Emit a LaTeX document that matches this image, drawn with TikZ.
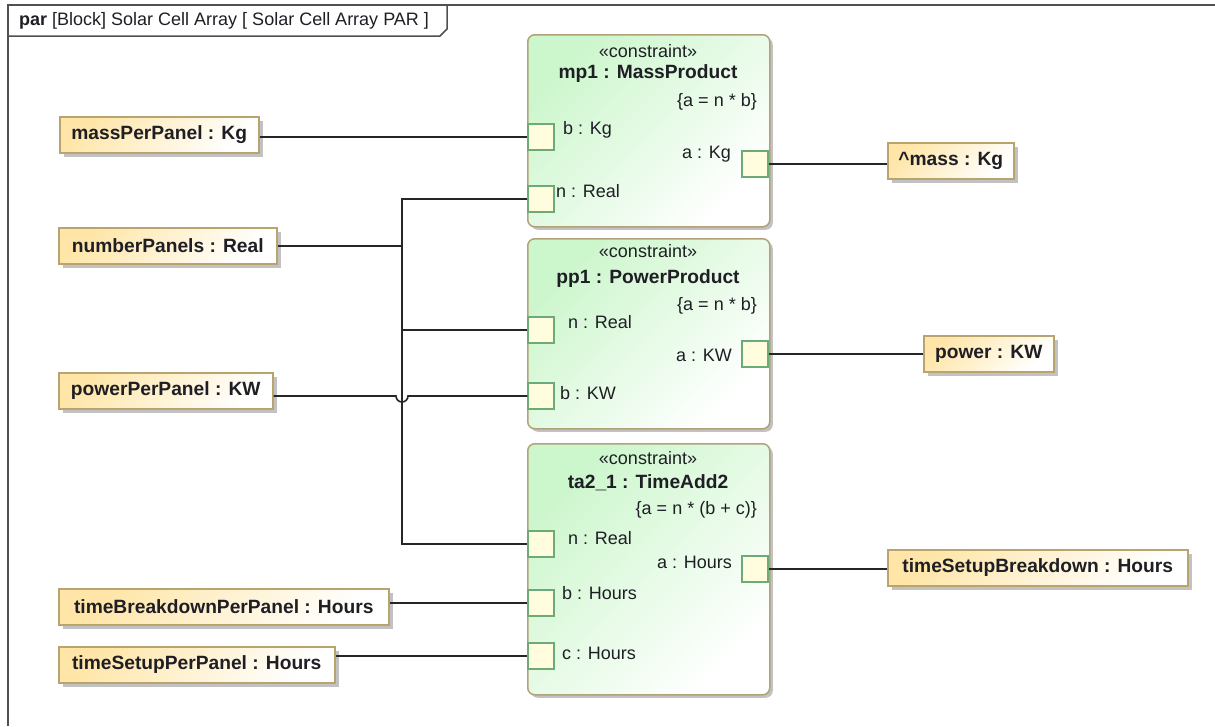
\documentclass[tikz,border=0pt]{standalone}
\usepackage{fontspec}
\setmainfont{Liberation Sans}
\usetikzlibrary{shadows,calc}

\definecolor{blockfill}{HTML}{CCF6CC}
\definecolor{blockline}{HTML}{B2A27A}
\definecolor{propfill}{HTML}{FFE6A8}
\definecolor{propline}{HTML}{B8A46E}
\definecolor{portfill}{HTML}{FFFDDE}
\definecolor{portline}{HTML}{6CAA78}
\definecolor{frameline}{HTML}{505050}
\definecolor{ink}{HTML}{1E1E24}

\newcommand\diagfont{\fontsize{18}{21}\selectfont}
\newcommand\boldfont{\fontsize{19.2}{22}\selectfont\bfseries}

\tikzset{
  constraintbox/.style={draw=blockline,line width=1.5pt,rounded corners=7pt,
    top color=blockfill,bottom color=white,shading angle=45,
    minimum width=242pt,inner sep=0pt,anchor=north west,
    drop shadow={shadow xshift=3pt,shadow yshift=-3pt,fill=black!40,opacity=.6}},
  propbox/.style={draw=propline,line width=1.5pt,
    top color=propfill,bottom color=white,shading angle=45,
    minimum height=36pt,inner sep=0pt,anchor=west,text=ink,font=\boldfont,
    drop shadow={shadow xshift=4pt,shadow yshift=-4pt,fill=black!40,opacity=.6}},
  port/.style={draw=portline,line width=1.3pt,fill=portfill,minimum size=26pt,inner sep=0pt},
  lbl/.style={inner sep=0pt,text=ink},
  wire/.style={line width=1.6pt,draw=black!85}
}

\begin{document}
\begin{tikzpicture}[x=1pt,y=-1pt,font=\diagfont]
\useasboundingbox (0,0) rectangle (1215,726);

\draw[frameline,line width=1.5pt] (8,726) -- (8,5) -- (1215,5);
\draw[frameline,line width=1.5pt] (8,36) -- (440,36) -- (447,29) -- (447,5);
\node[lbl,anchor=west] (frametitle) at (19,21) {\textbf{par} [Block] Solar Cell Array [ Solar Cell Array PAR ]};

\node[constraintbox,minimum height=192pt] (mp1) at (527,34) {};
\node[lbl] (mp1st) at (648,51) {«constraint»};
\node[lbl,font=\boldfont] (mp1name) at (648,74) {mp1 : MassProduct};
\node[lbl,anchor=east] (mp1expr) at (757,102) {\{a = n * b\}};
\node[port] (mp1b) at (541,137) {};
\node[port] (mp1n) at (541,199) {};
\node[port] (mp1a) at (755,164) {};
\node[lbl,anchor=west] at (563,130) {b : Kg};
\node[lbl,anchor=west] at (556,191) {n : Real};
\node[lbl,anchor=east] at (731,154) {a : Kg};

\node[constraintbox,minimum height=190pt] (pp1) at (527,238) {};
\node[lbl] (pp1st) at (648,251) {«constraint»};
\node[lbl,font=\boldfont] (pp1name) at (648,279) {pp1 : PowerProduct};
\node[lbl,anchor=east] (pp1expr) at (757,306) {\{a = n * b\}};
\node[port] (pp1n) at (541,330) {};
\node[port] (pp1b) at (541,396) {};
\node[port] (pp1a) at (755,354) {};
\node[lbl,anchor=west] at (568,322) {n : Real};
\node[lbl,anchor=west] at (560,393) {b : KW};
\node[lbl,anchor=east] at (732,355) {a : KW};

\node[constraintbox,minimum height=251pt] (ta2) at (527,443) {};
\node[lbl] (ta2st) at (648,458) {«constraint»};
\node[lbl,font=\boldfont] (ta2name) at (648,483) {ta2\_1 : TimeAdd2};
\node[lbl,anchor=east] (ta2expr) at (757,510) {\{a = n * (b + c)\}};
\node[port] (ta2n) at (541,544) {};
\node[port] (ta2b) at (541,603) {};
\node[port] (ta2c) at (541,656) {};
\node[port] (ta2a) at (755,569) {};
\node[lbl,anchor=west] at (568,538) {n : Real};
\node[lbl,anchor=west] at (562,593) {b : Hours};
\node[lbl,anchor=west] at (562,653) {c : Hours};
\node[lbl,anchor=east] at (732,562) {a : Hours};

\node[propbox,minimum width=199pt] (mpp) at (59,135) {massPerPanel : Kg};
\node[propbox,minimum width=218pt] (np) at (58,246) {numberPanels : Real};
\node[propbox,minimum width=214pt] (ppp) at (58,391) {powerPerPanel : KW};
\node[propbox,minimum width=330pt] (tbpp) at (58,607) {timeBreakdownPerPanel : Hours};
\node[propbox,minimum width=276pt] (tspp) at (58,665) {timeSetupPerPanel : Hours};
\node[propbox,minimum width=126pt] (mass) at (887,161) {\^{}mass : Kg};
\node[propbox,minimum width=130pt] (pwr) at (923,354) {power : KW};
\node[propbox,minimum width=300pt] (tsb) at (887,568) {timeSetupBreakdown : Hours};

\coordinate (bus) at (402,0);

\draw[wire] (mp1b.west -| mpp.east) -- (mp1b.west);
\draw[wire] (mp1n.west) -- (mp1n.west -| bus) -- (ta2n.west -| bus) -- (ta2n.west);
\draw[wire] (np.east) -- (np.east -| bus);
\draw[wire] (pp1n.west) -- (pp1n.west -| bus);
\draw[wire] (pp1b.west -| ppp.east) -- ($(pp1b.west -| bus)+(-6,0)$)
  arc[start angle=180,end angle=0,radius=6] -- (pp1b.west);
\draw[wire] (ta2b.west -| tbpp.east) -- (ta2b.west);
\draw[wire] (ta2c.west -| tspp.east) -- (ta2c.west);
\draw[wire] (mp1a.east) -- (mp1a.east -| mass.west);
\draw[wire] (pp1a.east) -- (pp1a.east -| pwr.west);
\draw[wire] (ta2a.east) -- (ta2a.east -| tsb.west);
\end{tikzpicture}
\end{document}
